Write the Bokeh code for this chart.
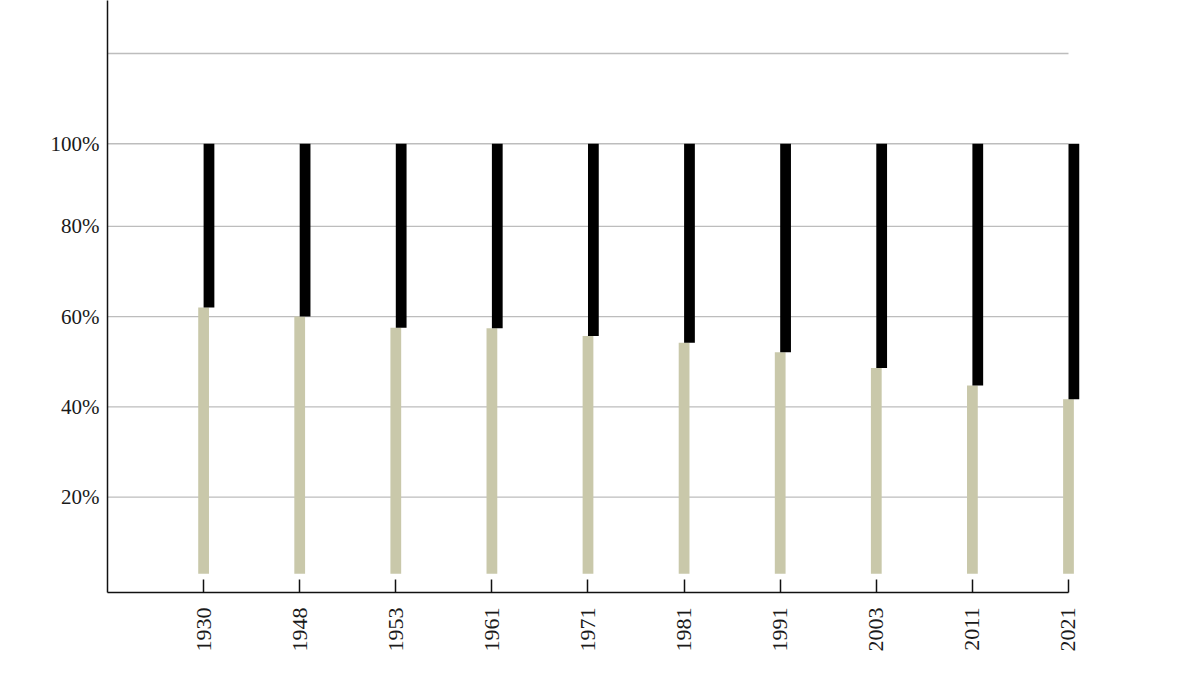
import math
from bokeh.plotting import figure
from bokeh.models import FixedTicker, Range1d, ColumnDataSource
from bokeh.transform import dodge
from bokeh.embed import file_html
from bokeh.resources import INLINE

# ---- data ----
years = [1930, 1948, 1953, 1961, 1971, 1981, 1991, 2003, 2011, 2021]
share = [62.0, 60.0, 57.5, 57.4, 55.7, 54.2, 52.1, 48.6, 44.7, 41.7]  # beige part (%)
y_tick_values = [20, 40, 60, 80, 98.3, 118.3]
y_tick_labels = ["20%", "40%", "60%", "80%", "100%", ""]

BAR_BOTTOM = 3.0
BAR_TOP = 98.3
BAR_W = 0.112

idx = list(range(len(years)))
src = ColumnDataSource(dict(
    x=idx,
    share=share,
    base=[BAR_BOTTOM] * len(idx),
    top=[BAR_TOP] * len(idx),
))

p = figure(width=1100, height=680, output_backend="svg", toolbar_location=None,
           x_range=Range1d(-1, 9.229), y_range=Range1d(-1.15, 130.05),
           min_border_left=107, min_border_right=10, min_border_top=0,
           min_border_bottom=88)
p.title.visible = False
p.outline_line_color = None
p.xgrid.visible = False
p.ygrid.visible = False
p.background_fill_color = "white"
p.border_fill_color = "white"

# grid lines (limited to the axis extent)
p.segment(x0=[-1] * len(y_tick_values), x1=[idx[-1]] * len(y_tick_values),
          y0=y_tick_values, y1=y_tick_values, line_color="#bdbdbd", line_width=1.3)

# beige and black bars
p.vbar(x="x", width=BAR_W, bottom="base", top="share", source=src,
       fill_color="#c9c8aa", line_color=None)
p.vbar(x=dodge("x", BAR_W / 2, range=p.x_range), width=BAR_W, bottom="share", top="top",
       source=src, fill_color="#000000", line_color=None)

FONT = "Liberation Serif"

xa = p.xaxis[0]
xa.ticker = FixedTicker(ticks=idx)
xa.major_label_overrides = {i: str(y) for i, y in zip(idx, years)}
xa.bounds = (-1, idx[-1])
xa.major_label_orientation = math.pi / 2
xa.major_tick_in = 13
xa.major_tick_out = 0
xa.minor_tick_line_color = None
xa.major_tick_line_color = "#111111"
xa.major_tick_line_width = 1.5
xa.axis_line_color = "#111111"
xa.axis_line_width = 1.5
xa.major_label_text_font = FONT
xa.major_label_text_font_size = "22px"
xa.major_label_text_color = "#1a1a1a"
xa.major_label_standoff = 15

ya = p.yaxis[0]
ya.ticker = FixedTicker(ticks=y_tick_values)
ya.major_label_overrides = {v: l for v, l in zip(y_tick_values, y_tick_labels)}
ya.major_tick_in = 0
ya.major_tick_out = 0
ya.minor_tick_line_color = None
ya.axis_line_color = "#111111"
ya.axis_line_width = 1.5
ya.major_label_text_font = FONT
ya.major_label_text_font_size = "21px"
ya.major_label_text_color = "#1a1a1a"
ya.major_label_standoff = 8

open("out.html", "w").write(file_html(p, INLINE))
